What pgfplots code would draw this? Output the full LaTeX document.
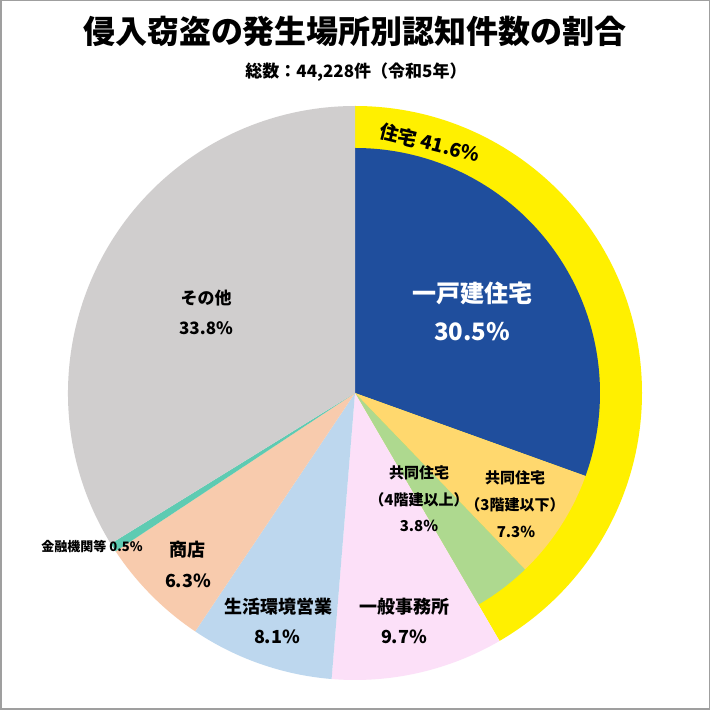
\documentclass[border=0pt]{standalone}
\usepackage{fontspec}
\setmainfont{Noto Sans CJK JP}
\usepackage{pgfplots}
\usepackage{pgfplotstable}
\pgfplotsset{compat=1.18}

\definecolor{cA}{HTML}{1F4E9D}
\definecolor{cB}{HTML}{FFD86E}
\definecolor{cC}{HTML}{AED98F}
\definecolor{cD}{HTML}{FCE0F8}
\definecolor{cE}{HTML}{BDD7EE}
\definecolor{cF}{HTML}{F8CBAD}
\definecolor{cG}{HTML}{5ECBB2}
\definecolor{cH}{HTML}{D0CECE}
\definecolor{ring}{HTML}{FFF000}

% share (%), radius (pt), colour
\pgfplotstableread{
pct rad col
30.5 245 cA
7.3  245 cB
3.8  245 cC
9.7  287 cD
8.1  287 cE
6.3  287 cF
0.5  287 cG
33.8 287 cH
}\piedata

\pgfplotstableread{
pct rad col
41.6 287 ring
}\ringdata

\newcommand\drawwedges[1]{%
  \def\cum{0}%
  \pgfplotstablegetrowsof{#1}%
  \pgfmathtruncatemacro\last{\pgfplotsretval-1}%
  \pgfplotsforeachungrouped \i in {0,...,\last}{%
    \pgfplotstablegetelem{\i}{pct}\of{#1}\let\wpct\pgfplotsretval
    \pgfplotstablegetelem{\i}{rad}\of{#1}\let\wrad\pgfplotsretval
    \pgfplotstablegetelem{\i}{col}\of{#1}\let\wcol\pgfplotsretval
    \pgfmathsetmacro\wa{90-3.6*\cum}%
    \pgfmathsetmacro\wb{90-3.6*(\cum+\wpct)}%
    \edef\tmp{\noexpand\fill[\wcol] (axis cs:355,317) -- ++(\wa:\wrad pt)
      arc[start angle=\wa,end angle=\wb,radius=\wrad pt] -- cycle;}%
    \tmp
    \pgfmathsetmacro\cum{\cum+\wpct}%
  }%
}

\begin{document}
\begin{tikzpicture}
\begin{axis}[
  x=1pt, y=1pt,
  xmin=0, xmax=710, ymin=0, ymax=710,
  hide axis, clip=false,
  scale only axis,
]
\fill[white] (axis cs:0,0) rectangle (axis cs:710,710);
\drawwedges{\ringdata}
\drawwedges{\piedata}
\draw[gray!75, line width=1.5pt] (axis cs:0.75,0.75) rectangle (axis cs:709.25,709.25);

\node[font=\bfseries\fontsize{32}{36}\selectfont] at (axis cs:355,679) {侵入窃盗の発生場所別認知件数の割合};
\node[font=\bfseries\fontsize{17}{19}\selectfont] at (axis cs:356,638) {総数：44,228件（令和5年）};

\node[font=\bfseries\fontsize{19}{21}\selectfont, rotate=-14, inner sep=0pt] at (axis cs:430,567) {住宅 41.6\%};

\node[text=white, font=\bfseries\fontsize{24}{26}\selectfont] at (axis cs:472,417) {一戸建住宅};
\node[text=white, font=\bfseries\fontsize{24}{26}\selectfont] at (axis cs:472,378) {30.5\%};

\node[font=\bfseries\fontsize{15}{17}\selectfont] at (axis cs:515,232) {共同住宅};
\node[font=\bfseries\fontsize{15}{17}\selectfont] at (axis cs:515,205) {（3階建以下）};
\node[font=\bfseries\fontsize{15}{17}\selectfont] at (axis cs:516,178) {7.3\%};

\node[font=\bfseries\fontsize{15}{17}\selectfont] at (axis cs:419,237) {共同住宅};
\node[font=\bfseries\fontsize{15}{17}\selectfont] at (axis cs:419,210) {（4階建以上）};
\node[font=\bfseries\fontsize{15}{17}\selectfont] at (axis cs:419,184) {3.8\%};

\node[font=\bfseries\fontsize{18}{20}\selectfont] at (axis cs:404,103) {一般事務所};
\node[font=\bfseries\fontsize{18}{20}\selectfont] at (axis cs:404,73) {9.7\%};

\node[font=\bfseries\fontsize{18}{20}\selectfont] at (axis cs:278,103) {生活環境営業};
\node[font=\bfseries\fontsize{18}{20}\selectfont] at (axis cs:277,73) {8.1\%};

\node[font=\bfseries\fontsize{18}{20}\selectfont] at (axis cs:187,160) {商店};
\node[font=\bfseries\fontsize{18}{20}\selectfont] at (axis cs:188,129) {6.3\%};

\node[font=\bfseries\fontsize{13}{15}\selectfont] at (axis cs:92,164) {金融機関等 0.5\%};

\node[font=\bfseries\fontsize{17}{19}\selectfont] at (axis cs:206,412) {その他};
\node[font=\bfseries\fontsize{17}{19}\selectfont] at (axis cs:206,382) {33.8\%};
\end{axis}
\end{tikzpicture}
\end{document}
